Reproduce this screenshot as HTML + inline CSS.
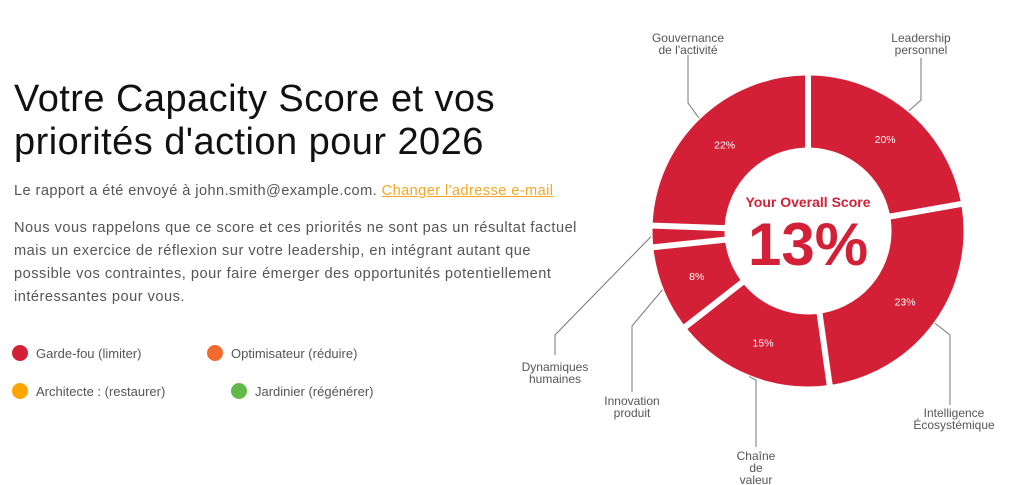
<!DOCTYPE html>
<html><head><meta charset="utf-8">
<style>
body{margin:0;width:1023px;height:485px;background:#fff;font-family:"Liberation Sans",sans-serif;position:relative;overflow:hidden}
h1{position:absolute;left:14px;top:78px;margin:0;font-weight:400;font-size:38px;line-height:43px;color:#111;letter-spacing:0.45px}
.p{position:absolute;left:14px;font-size:14.6px;color:#555;line-height:23px;white-space:nowrap}
.p a{color:#f5a623;text-decoration:underline}
.lg{position:absolute;font-size:13px;color:#555;display:flex;align-items:center}
.lg i{display:inline-block;width:16px;height:16px;border-radius:50%;margin-right:8px}
svg{position:absolute;left:0;top:0}
</style></head><body>
<h1>Votre Capacity Score et vos<br>priorités d'action pour 2026</h1>
<div class="p" style="top:180px;letter-spacing:0.42px">Le rapport a été envoyé à john.smith@example.com. <a>Changer l'adresse e-mail</a></div>
<div class="p" style="top:217px;letter-spacing:0.5px">Nous vous rappelons que ce score et ces priorités ne sont pas un résultat factuel<br>mais un exercice de réflexion sur votre leadership, en intégrant autant que<br>possible vos contraintes, pour faire émerger des opportunités potentiellement<br>intéressantes pour vous.</div>
<div class="lg" style="left:12px;top:345px"><i style="background:#d32036"></i>Garde-fou (limiter)</div>
<div class="lg" style="left:207px;top:345px"><i style="background:#f26a2e"></i>Optimisateur (réduire)</div>
<div class="lg" style="left:12px;top:383px"><i style="background:#ffa500"></i>Architecte : (restaurer)</div>
<div class="lg" style="left:231px;top:383px"><i style="background:#63b947"></i>Jardinier (régénérer)</div>
<svg id="chart" width="1023" height="485"></svg>
<script>
const categories=["Leadership personnel","Intelligence Écosystémique","Chaîne de valeur","Innovation produit","Dynamiques humaines","Gouvernance de l'activité"];
const values=[20,23,15,8,2,22];
const valueLabels=["20%","23%","15%","8%","","22%"];
const overallScore="13%";
const labelLines=[["Leadership","personnel"],["Intelligence","Écosystémique"],["Chaîne","de","valeur"],["Innovation","produit"],["Dynamiques","humaines"],["Gouvernance","de l'activité"]];
const anchors=[[921,100,921,58,921,38],[950,335,950,405,954,413],[756,380,756,447,756,456],[632,326,632,392,632,401],[555,335,555,355,555,367],[688,103,688,55,688,38]];
const NS="http://www.w3.org/2000/svg";
const svg=document.getElementById('chart');
const cx=808,cy=231,R=155,r=84,gap=3.5;
function pt(rad,a){return [cx+rad*Math.sin(a),cy-rad*Math.cos(a)];}
function mk(t,attrs){const e=document.createElementNS(NS,t);for(const k in attrs)e.setAttribute(k,attrs[k]);svg.appendChild(e);return e;}
const total=values.reduce((a,b)=>a+b,0);
let acc=0;
values.forEach((v,i)=>{
  const a0=acc/total*2*Math.PI, a1=(acc+v)/total*2*Math.PI; acc+=v;
  const po=gap/R, pi=gap/r;
  const o0=pt(R,a0+po),o1=pt(R,a1-po),i1=pt(r,a1-pi),i0=pt(r,a0+pi);
  const lo=(a1-a0-2*po)>Math.PI?1:0, li=(a1-a0-2*pi)>Math.PI?1:0;
  const p=mk('path',{d:`M${o0}A${R},${R} 0 ${lo} 1 ${o1}L${i1}A${r},${r} 0 ${li} 0 ${i0}Z`,fill:'#d32036','stroke':'#d32036','stroke-width':1,'stroke-linejoin':'round'});
  
  
  const am=(a0+a1)/2;
  if(valueLabels[i]){const c=pt(120,am);const t=mk('text',{x:c[0],y:c[1]+4,'text-anchor':'middle','font-size':10.5,fill:'#fff','font-family':'Liberation Sans, sans-serif'});t.textContent=valueLabels[i];
  
  }
  const s=pt(R+2,am),an=anchors[i];
  const l=mk('polyline',{points:`${s} ${an[0]},${an[1]} ${an[2]},${an[3]}`,fill:'none',stroke:'#777','stroke-width':1});
  
  
  const t=mk('text',{x:an[4],y:an[5]+4,'text-anchor':'middle','font-size':12,fill:'#555','font-family':'Liberation Sans, sans-serif'});
  
  
  labelLines[i].forEach((s2,j)=>{const ts=document.createElementNS(NS,'tspan');ts.setAttribute('x',an[4]);ts.setAttribute('dy',j?12:0);ts.textContent=s2;t.appendChild(ts);});
});
const t1=mk('text',{x:cx,y:207,'text-anchor':'middle','font-size':14,'font-weight':'bold',fill:'#d32036','font-family':'Liberation Sans, sans-serif'});t1.textContent="Your Overall Score";


const t2=mk('text',{x:cx,y:265,'text-anchor':'middle','font-size':60,'font-weight':'bold',fill:'#d32036','font-family':'Liberation Sans, sans-serif'});t2.textContent=overallScore;


</script>
</body></html>
